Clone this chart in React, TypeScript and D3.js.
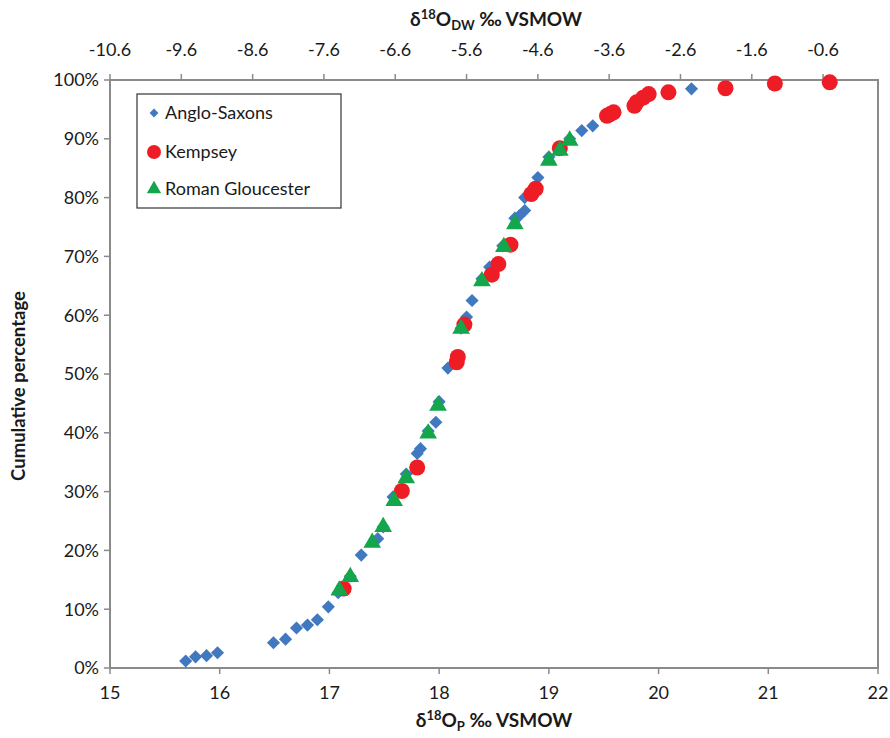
import * as d3 from "d3";

// cumulative distributions, x = d18Op (‰ VSMOW), y = cumulative %
const angloX = [15.69, 15.78, 15.88, 15.98, 16.49, 16.6, 16.7, 16.8, 16.89, 16.99, 17.08, 17.19, 17.29, 17.44, 17.49, 17.58, 17.7, 17.8, 17.83, 17.9, 17.97, 18.0, 18.08, 18.16, 18.2, 18.25, 18.3, 18.39, 18.46, 18.58, 18.69, 18.73, 18.78, 18.78, 18.9, 19.0, 19.19, 19.3, 19.4, 20.3];
const angloY = [1.2, 1.9, 2.1, 2.6, 4.3, 4.9, 6.8, 7.3, 8.2, 10.4, 12.8, 15.6, 19.2, 22.0, 24.0, 29.1, 33.0, 36.5, 37.3, 40.3, 41.8, 45.3, 51.0, 52.5, 57.8, 59.7, 62.5, 66.2, 68.2, 71.8, 76.5, 76.9, 77.8, 80.0, 83.4, 86.9, 90.0, 91.4, 92.2, 98.5];

const kempseyX = [17.13, 17.66, 17.8, 18.16, 18.17, 18.23, 18.48, 18.54, 18.65, 18.84, 18.88, 19.1, 19.53, 19.56, 19.59, 19.78, 19.8, 19.86, 19.91, 20.09, 20.61, 21.06, 21.56];
const kempseyY = [13.5, 30.1, 34.1, 52.0, 52.9, 58.4, 66.9, 68.7, 72.0, 80.6, 81.5, 88.4, 93.9, 94.2, 94.5, 95.6, 96.2, 97.0, 97.6, 97.9, 98.6, 99.4, 99.6];

const romanX = [17.09, 17.19, 17.39, 17.49, 17.59, 17.7, 17.9, 17.99, 18.2, 18.39, 18.59, 18.69, 19.0, 19.1, 19.19];
const romanY = [13.2, 15.5, 21.3, 24.0, 28.4, 32.3, 39.9, 44.6, 57.7, 65.8, 71.6, 75.5, 86.3, 88.0, 89.7];

const bottomTicks = [15, 16, 17, 18, 19, 20, 21, 22];
const topTicks = [-10.6, -9.6, -8.6, -7.6, -6.6, -5.6, -4.6, -3.6, -2.6, -1.6, -0.6];
const yTicks = [0, 10, 20, 30, 40, 50, 60, 70, 80, 90, 100];

const seriesNames = ["Anglo-Saxons", "Kempsey", "Roman Gloucester"];

export default function App() {
  const width = 890;
  const height = 738;
  const left = 110, right = 878, top = 80, bottom = 668;

  const x = d3.scaleLinear().domain([15, 22]).range([left, right]);
  const xTop = d3.scaleLinear().domain([-10.6, 0.17]).range([left, right]);
  const y = d3.scaleLinear().domain([0, 100]).range([bottom, top]);

  const diamond = d3.symbol(d3.symbolDiamond2, 110)();
  const triangle = d3.symbol(d3.symbolTriangle, 135)();

  const axisColor = "#8a8a8a";
  const font = "Lato, 'Open Sans', sans-serif";
  const blue = "#4079c0";
  const red = "#ee1c25";
  const green = "#13a64a";

  return (
    <svg width={width} height={height} style={{ position: "absolute", left: 0, top: 0, background: "#fff" }} fontFamily={font}>
      {/* plot frame */}
      <rect x={left} y={top} width={right - left} height={bottom - top} fill="none" stroke={axisColor} strokeWidth={2} />

      {/* left axis */}
      {yTicks.map((t) => (
        <g key={t}>
          <line x1={left - 6} x2={left} y1={y(t)} y2={y(t)} stroke={axisColor} strokeWidth={1.5} />
          <text x={left - 11} y={y(t)} dy="0.35em" textAnchor="end" fontSize={18} fill="#1a1a1a">{t + "%"}</text>
        </g>
      ))}

      {/* bottom axis */}
      {bottomTicks.map((t) => (
        <g key={t}>
          <line x1={x(t)} x2={x(t)} y1={bottom} y2={bottom + 6} stroke={axisColor} strokeWidth={1.5} />
          <text x={x(t)} y={699} textAnchor="middle" fontSize={18} fill="#1a1a1a">{t}</text>
        </g>
      ))}

      {/* top axis */}
      {topTicks.map((t) => (
        <g key={t}>
          <line x1={xTop(t)} x2={xTop(t)} y1={top - 6} y2={top} stroke={axisColor} strokeWidth={1.5} />
          <text x={xTop(t)} y={56} textAnchor="middle" fontSize={18} fill="#1a1a1a">{t}</text>
        </g>
      ))}

      {/* titles */}
      <text x={496} y={26} textAnchor="middle" fontSize={19} fontWeight="bold" fill="#1a1a1a">
        δ<tspan fontSize={13} dy={-7}>18</tspan><tspan dy={7}>O</tspan><tspan fontSize={13} dy={4}>DW</tspan><tspan dy={-4}> ‰ VSMOW</tspan>
      </text>
      <text x={494} y={727} textAnchor="middle" fontSize={19} fontWeight="bold" fill="#1a1a1a">
        δ<tspan fontSize={13} dy={-7}>18</tspan><tspan dy={7}>O</tspan><tspan fontSize={13} dy={4}>P</tspan><tspan dy={-4}> ‰ VSMOW</tspan>
      </text>
      <text transform="translate(25,386) rotate(-90)" textAnchor="middle" fontSize={18.5} fontWeight="bold" fill="#1a1a1a">
        Cumulative percentage
      </text>

      {/* series */}
      <g fill={blue}>
        {angloX.map((v, i) => (
          <path key={i} d={diamond} transform={`translate(${x(v)},${y(angloY[i])})`} />
        ))}
      </g>
      <g fill={red}>
        {kempseyX.map((v, i) => (
          <circle key={i} cx={x(v)} cy={y(kempseyY[i])} r={8} />
        ))}
      </g>
      <g fill={green}>
        {romanX.map((v, i) => (
          <path key={i} d={triangle} transform={`translate(${x(v)},${y(romanY[i])})`} />
        ))}
      </g>

      {/* legend */}
      <rect x={137} y={94} width={204} height={114} fill="#fff" stroke="#333" strokeWidth={1.2} />
      <path d={d3.symbol(d3.symbolDiamond2, 50)()} transform="translate(154,113)" fill={blue} />
      <circle cx={154} cy={152} r={7} fill={red} />
      <path d={d3.symbol(d3.symbolTriangle, 90)()} transform="translate(154,189)" fill={green} />
      {seriesNames.map((s, i) => (
        <text key={s} x={165} y={[113, 152, 189][i]} dy="0.35em" fontSize={18} fill="#1a1a1a">{s}</text>
      ))}
    </svg>
  );
}
